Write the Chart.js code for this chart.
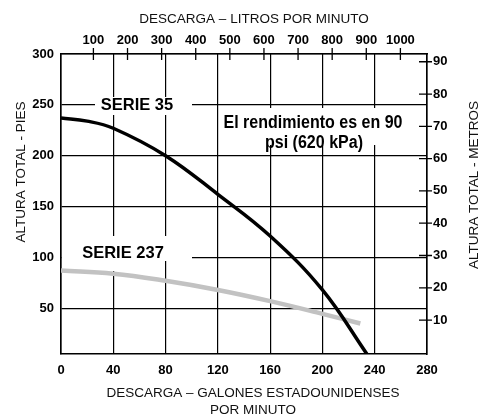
<!DOCTYPE html>
<html>
<head>
<meta charset="utf-8">
<script src="https://cdn.jsdelivr.net/npm/chart.js@4.4.0/dist/chart.umd.min.js"></script>
<style>
  html, body { margin: 0; padding: 0; background: #fff; }
</style>
</head>
<body>
<canvas id="curvas" width="479" height="414"></canvas>
<script>
// Curvas de rendimiento: altura total vs. caudal, series 35 y 237
const GPM_35 = [0, 20, 40, 80, 120, 160, 200, 234];
const PIES_35 = [237, 234, 227, 200, 162, 121, 68, 5];
const GPM_237 = [0, 40, 80, 120, 160, 200, 229];
const PIES_237 = [87, 84, 77, 68, 57, 44.5, 35];

const TICKS_GPM = [0, 40, 80, 120, 160, 200, 240, 280];
const TICKS_PIES = [50, 100, 150, 200, 250, 300];
const TICKS_LITROS = [100, 200, 300, 400, 500, 600, 700, 800, 900, 1000];
const TICKS_METROS = [10, 20, 30, 40, 50, 60, 70, 80, 90];

const FAMILIA = '"Liberation Sans", Arial, sans-serif';
const FUENTE_TICK = { family: FAMILIA, size: 13, weight: 'bold' };

const puntos = (xs, ys) => xs.map((x, i) => ({ x, y: ys[i] }));
const fijarTicks = lista => scale => { scale.ticks = lista.map(v => ({ value: v })); };
const sinSeparador = v => String(v);

// texto con compresión horizontal opcional
function texto(ctx, str, x, y, font, escala = 1, align = 'center') {
    ctx.save();
    ctx.font = font;
    ctx.textAlign = align;
    ctx.textBaseline = 'alphabetic';
    ctx.translate(x, y);
    ctx.scale(escala, 1);
    ctx.fillText(str, 0, 0);
    ctx.restore();
}

function textoVertical(ctx, str, x, y, font) {
    ctx.save();
    ctx.font = font;
    ctx.textAlign = 'center';
    ctx.textBaseline = 'alphabetic';
    ctx.translate(x, y);
    ctx.rotate(-Math.PI / 2);
    ctx.fillText(str, 0, 0);
    ctx.restore();
}

const rotulos = {
    id: 'rotulos',
    beforeDatasetsDraw(chart) {
        const ctx = chart.ctx;
        ctx.save();
        // fondos blancos que cortan la cuadrícula detrás de los rótulos
        ctx.fillStyle = '#fff';
        ctx.fillRect(95, 97, 97, 18);
        ctx.fillRect(62, 236, 130, 25);
        ctx.fillRect(62, 261, 78, 10);
        ctx.fillRect(222, 108, 190, 37);

        // marcas de los ejes secundarios, cruzando el borde
        const { top, right } = chart.chartArea;
        const sx = chart.scales.x2, sy = chart.scales.y2;
        ctx.strokeStyle = '#000';
        ctx.lineWidth = 1.3;
        ctx.beginPath();
        sx.ticks.forEach(t => {
            const p = sx.getPixelForValue(t.value);
            ctx.moveTo(p, top - 6);
            ctx.lineTo(p, top + 6);
        });
        sy.ticks.forEach(t => {
            const p = sy.getPixelForValue(t.value);
            ctx.moveTo(right - 8, p);
            ctx.lineTo(right + 5, p);
        });
        ctx.stroke();
        ctx.restore();
    },
    afterDraw(chart) {
        const ctx = chart.ctx;
        ctx.save();
        ctx.fillStyle = '#111';
        const titulo = '13.5px ' + FAMILIA;
        texto(ctx, 'DESCARGA – LITROS POR MINUTO', 254, 23, titulo);
        texto(ctx, 'DESCARGA – GALONES ESTADOUNIDENSES', 253, 397, titulo);
        texto(ctx, 'POR MINUTO', 253, 414, titulo);
        textoVertical(ctx, 'ALTURA TOTAL - PIES', 25, 172, titulo);
        textoVertical(ctx, 'ALTURA TOTAL - METROS', 478, 185, titulo);

        ctx.fillStyle = '#000';
        const serie = 'bold 16.5px ' + FAMILIA;
        texto(ctx, 'SERIE 35', 137, 110, serie);
        texto(ctx, 'SERIE 237', 123, 258, serie);

        const nota = 'bold 18px ' + FAMILIA;
        texto(ctx, 'El rendimiento es en 90', 313, 128, nota, 0.89);
        texto(ctx, 'psi (620 kPa)', 314, 148, nota, 0.89);
        ctx.restore();
    }
};

const EJE = { color: '#000', width: 1.6 };

new Chart(document.getElementById('curvas'), {
    type: 'line',
    data: {
        datasets: [
            {
                label: 'SERIE 35',
                data: puntos(GPM_35, PIES_35),
                borderColor: '#000',
                borderWidth: 3.5,
                pointRadius: 0,
                tension: 0.4,
                xAxisID: 'x', yAxisID: 'y'
            },
            {
                label: 'SERIE 237',
                data: puntos(GPM_237, PIES_237),
                borderColor: '#c2c2c2',
                borderWidth: 4.5,
                pointRadius: 0,
                tension: 0.4,
                xAxisID: 'x', yAxisID: 'y'
            }
        ]
    },
    options: {
        responsive: false,
        animation: false,
        layout: { padding: 0 },
        plugins: { legend: { display: false }, tooltip: { enabled: false } },
        scales: {
            x: {
                type: 'linear', position: 'bottom', min: 0, max: 280,
                afterBuildTicks: fijarTicks(TICKS_GPM),
                afterFit: s => { s.height = 60; },
                ticks: { color: '#000', font: FUENTE_TICK, padding: 9, maxRotation: 0, callback: sinSeparador },
                grid: { color: '#000', lineWidth: 1.2, drawTicks: false },
                border: EJE
            },
            y: {
                type: 'linear', position: 'left', min: 5, max: 300,
                afterBuildTicks: fijarTicks(TICKS_PIES),
                afterFit: s => { s.width = 61; },
                ticks: { color: '#000', font: FUENTE_TICK, padding: 7, callback: sinSeparador },
                grid: { color: '#000', lineWidth: 1.2, drawTicks: false },
                border: EJE
            },
            x2: {
                type: 'linear', position: 'top', min: 5, max: 1078,
                afterBuildTicks: fijarTicks(TICKS_LITROS),
                afterFit: s => { s.height = 54; },
                ticks: { color: '#000', font: FUENTE_TICK, padding: 6, maxRotation: 0, callback: sinSeparador },
                grid: { display: false, drawTicks: false },
                border: EJE
            },
            y2: {
                type: 'linear', position: 'right', min: -0.5, max: 92.4,
                afterBuildTicks: fijarTicks(TICKS_METROS),
                afterFit: s => { s.width = 52; },
                ticks: { color: '#000', font: FUENTE_TICK, padding: 6, callback: sinSeparador },
                grid: { display: false, drawTicks: false },
                border: EJE
            }
        }
    },
    plugins: [rotulos]
});
</script>
</body>
</html>
